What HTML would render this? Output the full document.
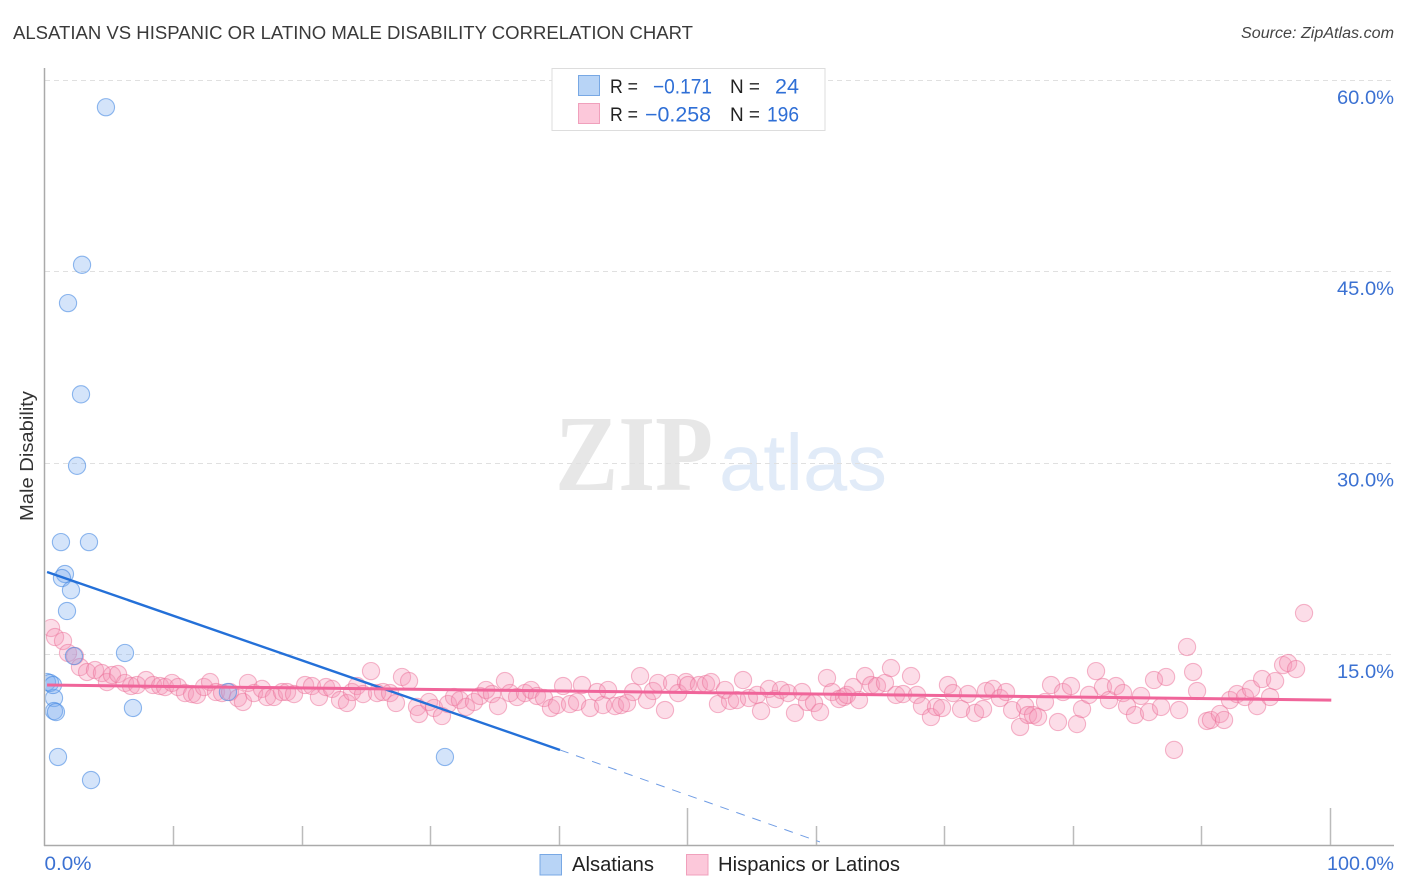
<!DOCTYPE html>
<html lang="en">
<head>
<meta charset="utf-8">
<title>Alsatian vs Hispanic or Latino Male Disability Correlation Chart</title>
<style>
  html, body { margin: 0; padding: 0; background: #fff; }
  body { width: 1406px; height: 892px; overflow: hidden; }
  svg { display: block; font-family: "Liberation Sans", sans-serif; }
</style>
</head>
<body>
<svg id="chart" xmlns="http://www.w3.org/2000/svg" width="1406" height="892" viewBox="0 0 1406 892">
  <defs>
    <clipPath id="plot-clip"><rect x="45.5" y="60" width="1350" height="785"></rect></clipPath>
  </defs>
  <rect x="0" y="0" width="1406" height="892" fill="#ffffff"></rect>

  <text x="13" y="39" font-size="18" fill="#3a3a3a" textLength="680" lengthAdjust="spacingAndGlyphs">ALSATIAN VS HISPANIC OR LATINO MALE DISABILITY CORRELATION CHART</text>
  <text x="1394" y="38" font-size="15.5" font-style="italic" fill="#444444" text-anchor="end" textLength="153" lengthAdjust="spacingAndGlyphs">Source: ZipAtlas.com</text>

  <g>
    <text x="555" y="490" font-family="'Liberation Serif', serif" font-weight="bold" font-size="108" fill="#e7e7e7" textLength="158" lengthAdjust="spacingAndGlyphs">ZIP</text>
    <text x="719" y="490" font-size="80" fill="#e1ebf8" textLength="168" lengthAdjust="spacingAndGlyphs">atlas</text>
  </g>

  <g id="grid"></g>
  <g id="axes"></g>
  <g id="y-labels"></g>
  <g id="x-labels"></g>
  <g id="pink-points" clip-path="url(#plot-clip)"></g>
  <g id="blue-points" clip-path="url(#plot-clip)"></g>
  <g id="trends"></g>

  <text transform="translate(33,456) rotate(-90)" font-size="18" fill="#333333" text-anchor="middle" textLength="130" lengthAdjust="spacingAndGlyphs">Male Disability</text>

  <g>
    <rect x="552" y="68.5" width="273" height="62" fill="#ffffff" stroke="#dddddd" stroke-width="1"></rect>
    <rect x="578.5" y="75.5" width="21" height="20" fill="#b8d4f6" stroke="#78a8e4" stroke-width="1"></rect>
    <rect x="578.5" y="103.5" width="21" height="20" fill="#fcc8da" stroke="#f0a0bc" stroke-width="1"></rect>
    <text x="610" y="93" font-size="19" fill="#222222" textLength="28" lengthAdjust="spacingAndGlyphs">R =</text>
    <text x="653" y="93.5" font-size="21" fill="#2f6fd6" textLength="59" lengthAdjust="spacingAndGlyphs">−0.171</text>
    <text x="730" y="93" font-size="19" fill="#222222" textLength="30" lengthAdjust="spacingAndGlyphs">N =</text>
    <text x="775" y="93.5" font-size="21" fill="#2f6fd6" textLength="24" lengthAdjust="spacingAndGlyphs">24</text>
    <text x="610" y="121" font-size="19" fill="#222222" textLength="28" lengthAdjust="spacingAndGlyphs">R =</text>
    <text x="645" y="121.5" font-size="21" fill="#2f6fd6" textLength="66" lengthAdjust="spacingAndGlyphs">−0.258</text>
    <text x="730" y="121" font-size="19" fill="#222222" textLength="30" lengthAdjust="spacingAndGlyphs">N =</text>
    <text x="767" y="121.5" font-size="21" fill="#2f6fd6" textLength="32" lengthAdjust="spacingAndGlyphs">196</text>
  </g>

  <g>
    <rect x="540" y="854.5" width="21.5" height="20.5" fill="#b8d4f6" stroke="#78a8e4" stroke-width="1"></rect>
    <text x="572" y="871" font-size="20" fill="#222222" textLength="82" lengthAdjust="spacingAndGlyphs">Alsatians</text>
    <rect x="686.5" y="854.5" width="21.5" height="20.5" fill="#fcc8da" stroke="#f0a0bc" stroke-width="1"></rect>
    <text x="718" y="871" font-size="20" fill="#222222" textLength="182" lengthAdjust="spacingAndGlyphs">Hispanics or Latinos</text>
  </g>
</svg>

<script>
const yTickValues = [15, 30, 45, 60];
const yTickLabels = ["15.0%", "30.0%", "45.0%", "60.0%"];
const xTickValues = [10, 20, 30, 40, 50, 60, 70, 80, 90, 100];
const xMajorTicks = [50, 100];
const xEndValues = [0, 100];
const xEndLabels = ["0.0%", "100.0%"];

const alsatianX = [4.78, 2.92, 1.83, 2.84, 2.53, 1.28, 3.46, 1.59, 1.36, 2.06, 1.75, 6.26, 2.29, 6.88, 31.15, 3.62, 1.05, 14.27, 0.74, 0.74, 0.89, 0.19, 0.43, 0.66];
const alsatianY = [57.85, 45.5, 42.5, 35.35, 29.75, 23.77, 23.77, 21.27, 20.95, 20.0, 18.37, 15.08, 14.84, 10.77, 6.93, 5.12, 6.93, 12.02, 11.55, 10.53, 10.45, 12.8, 12.73, 12.57];

const hispanicX = [
  0.51, 0.82, 1.44, 1.83, 2.37, 2.76, 3.31, 3.93, 4.47, 4.86, 5.25, 5.72, 6.26, 6.73, 7.20, 7.90,
  8.44, 8.99, 9.38, 9.92, 10.39, 10.93, 11.48, 11.86, 12.41, 12.88, 13.34, 13.81, 14.43, 15.05, 15.44, 15.83,
  16.30, 16.92, 17.31, 17.85, 18.48, 18.87, 19.41, 20.27, 20.81, 21.35, 21.90, 22.37, 22.99, 23.53,
  23.92, 24.31, 24.78, 25.40, 25.87, 26.33, 26.88, 27.34, 27.81, 28.36, 28.98, 29.13, 29.91, 30.30, 30.92, 31.39,
  31.86, 32.32, 32.79, 33.41, 33.88, 34.35, 34.81, 35.28, 35.82, 36.21, 36.76, 37.38, 37.85, 38.31, 38.86, 39.40,
  39.87, 40.34, 40.88, 41.43, 41.81, 42.44, 42.98, 43.45, 43.84, 44.38, 44.85, 45.32, 45.78, 46.33, 46.87, 47.34,
  47.73, 48.27, 48.82, 49.29,
  49.90, 50.06, 50.91, 51.46, 51.85, 52.39, 52.94, 53.33, 53.87, 54.34, 54.80, 55.43, 55.74, 56.36, 56.83, 57.29,
  57.84, 58.38, 58.93, 59.32, 59.86, 60.33, 60.87, 61.26, 61.81, 62.20, 62.43, 62.90, 63.36, 63.83, 64.30, 64.76,
  65.38, 65.85, 66.24, 66.79, 67.41, 67.87, 68.26, 68.96, 69.35, 69.82, 70.28, 70.67, 71.30, 71.84, 72.39, 73.01,
  73.24, 73.79, 74.33, 74.80, 75.27, 75.89, 76.28, 76.51,
  76.90, 77.29, 77.83, 78.30, 78.84, 79.23, 79.85, 80.32, 80.71, 81.25, 81.80, 82.34, 82.81, 83.35, 83.90, 84.21,
  84.83, 85.30, 85.92, 86.31, 86.86, 87.25, 87.87, 88.26, 88.88, 89.35, 89.66, 90.43, 90.74, 91.44, 91.76, 92.22,
  92.77, 93.39, 93.86, 94.33, 94.72, 95.34, 95.73, 96.35, 96.74, 97.36, 97.98
];
const hispanicY = [
  17.04, 16.33, 16.02, 15.08, 14.84, 13.98, 13.59, 13.74, 13.51, 12.80, 13.35, 13.43, 12.73, 12.49, 12.57, 12.96,
  12.57, 12.49, 12.41, 12.73, 12.41, 11.94, 11.86, 11.79, 12.41, 12.80, 12.02, 11.94, 12.02, 11.55, 11.24, 12.73,
  11.94, 12.26, 11.63, 11.63, 12.02, 12.02, 11.86, 12.57, 12.49, 11.63, 12.41, 12.26, 11.39, 11.16,
  12.02, 12.49, 11.86, 13.66, 11.94, 12.02, 11.94, 11.16, 13.20, 12.88, 10.85, 10.30, 11.24, 10.77, 10.14, 11.08,
  11.63, 11.39, 10.85, 11.24, 11.71, 12.18, 11.86, 10.92, 12.88, 11.94, 11.63, 11.94, 12.18, 11.71, 11.55, 10.77,
  11.00, 12.49, 11.08, 11.24, 12.57, 10.77, 12.02, 11.00, 12.18, 10.92, 11.00, 11.16, 12.02, 13.27, 11.39, 12.10,
  12.73, 10.61, 12.73, 11.94,
  12.80, 12.57, 12.57, 12.65, 12.80, 11.08, 12.18, 11.32, 11.39, 12.96, 11.55, 11.79, 10.53, 12.26, 11.47, 12.18,
  11.94, 10.38, 12.02, 11.24, 11.16, 10.45, 13.12, 12.02, 11.47, 11.63, 11.79, 12.41, 11.39, 13.27, 12.57, 12.49,
  12.73, 13.90, 11.79, 11.86, 13.27, 11.79, 10.92, 10.06, 10.85, 10.77, 12.57, 11.94, 10.69, 11.86, 10.38, 10.69,
  12.10, 12.26, 11.55, 12.02, 10.61, 9.28, 10.92, 10.22,
  10.22, 10.06, 11.24, 12.57, 9.67, 12.02, 12.49, 9.51, 10.69, 11.79, 13.66, 12.41, 11.39, 12.49, 11.94, 10.92,
  10.22, 11.71, 10.45, 12.96, 10.85, 13.20, 7.48, 10.61, 15.55, 13.59, 12.10, 9.75, 9.83, 10.30, 9.83, 11.39,
  11.86, 11.63, 12.26, 10.92, 13.04, 11.63, 12.88, 14.13, 14.29, 13.82, 18.21
];

const alsatianTrendX = [0.2, 40.1];
const alsatianTrendY = [21.43, 7.48];
const alsatianProjectionX = [40.1, 60.32];
const alsatianProjectionY = [7.48, 0.27];
const hispanicTrendX = [0.2, 100.1];
const hispanicTrendY = [12.57, 11.39];

const NS = "http://www.w3.org/2000/svg";
const scaleX = function (v) { return 44.5 + v * 12.855; };
const scaleY = function (v) { return 845.4 - v * 12.76; };

function make(tag, parentId, props) {
  const node = document.createElementNS(NS, tag);
  Object.keys(props).forEach(function (k) { node.setAttribute(k, props[k]); });
  document.getElementById(parentId).appendChild(node);
  return node;
}

yTickValues.forEach(function (v, i) {
  const y = Math.round(scaleY(v)) + 0.5;
  const line = make("line", "grid", { x1: 45, x2: 1394, y1: y, y2: y, stroke: "#e0e0e0", "stroke-width": 1, "stroke-dasharray": "5 4" });
  
  
  const label = make("text", "y-labels", { x: 1394, y: scaleY(v) + 24, "font-size": 19.5, fill: "#3b71d2", "text-anchor": "end", textLength: 57, lengthAdjust: "spacingAndGlyphs" });
  label.textContent = yTickLabels[i];
  
  
});

const leftAxis = make("line", "axes", { x1: 44.5, x2: 44.5, y1: 68, y2: 846, stroke: "#aaaaaa", "stroke-width": 1.5 });


const bottomAxis = make("line", "axes", { x1: 44, x2: 1394, y1: 845.5, y2: 845.5, stroke: "#aaaaaa", "stroke-width": 1.5 });



xTickValues.forEach(function (v) {
  const x = Math.round(scaleX(v)) + 0.5;
  const top = xMajorTicks.indexOf(v) >= 0 ? 808 : 826;
  const tick = make("line", "axes", { x1: x, x2: x, y1: top, y2: 845, stroke: "#bbbbbb", "stroke-width": 1.5 });
  
  
});

xEndValues.forEach(function (v, i) {
  const label = make("text", "x-labels", { x: i === 0 ? scaleX(v) : 1394, y: 870, "font-size": 19.5, fill: "#3b71d2", "text-anchor": i === 0 ? "start" : "end", textLength: i === 0 ? 47 : 67, lengthAdjust: "spacingAndGlyphs" });
  label.textContent = xEndLabels[i];
  
  
});

hispanicX.forEach(function (v, i) {
  const dot = make("circle", "pink-points", { cx: scaleX(v), cy: scaleY(hispanicY[i]), r: 8.6, fill: "rgba(247,150,185,0.32)", stroke: "rgba(236,112,152,0.5)", "stroke-width": 1.1 });
  
  
});

alsatianX.forEach(function (v, i) {
  const dot = make("circle", "blue-points", { cx: scaleX(v), cy: scaleY(alsatianY[i]), r: 8.6, fill: "rgba(120,172,240,0.32)", stroke: "rgba(72,138,226,0.6)", "stroke-width": 1.1 });
  
  
});

const blueTrend = make("line", "trends", { x1: scaleX(alsatianTrendX[0]), y1: scaleY(alsatianTrendY[0]), x2: scaleX(alsatianTrendX[1]), y2: scaleY(alsatianTrendY[1]), stroke: "#2470d8", "stroke-width": 2.4 });


const blueProjection = make("line", "trends", { x1: scaleX(alsatianProjectionX[0]), y1: scaleY(alsatianProjectionY[0]), x2: scaleX(alsatianProjectionX[1]), y2: scaleY(alsatianProjectionY[1]), stroke: "#6f9ce4", "stroke-width": 1, "stroke-dasharray": "9 8" });


const pinkTrend = make("line", "trends", { x1: scaleX(hispanicTrendX[0]), y1: scaleY(hispanicTrendY[0]), x2: scaleX(hispanicTrendX[1]), y2: scaleY(hispanicTrendY[1]), stroke: "#f0659a", "stroke-width": 3 });


</script>
</body>
</html>
